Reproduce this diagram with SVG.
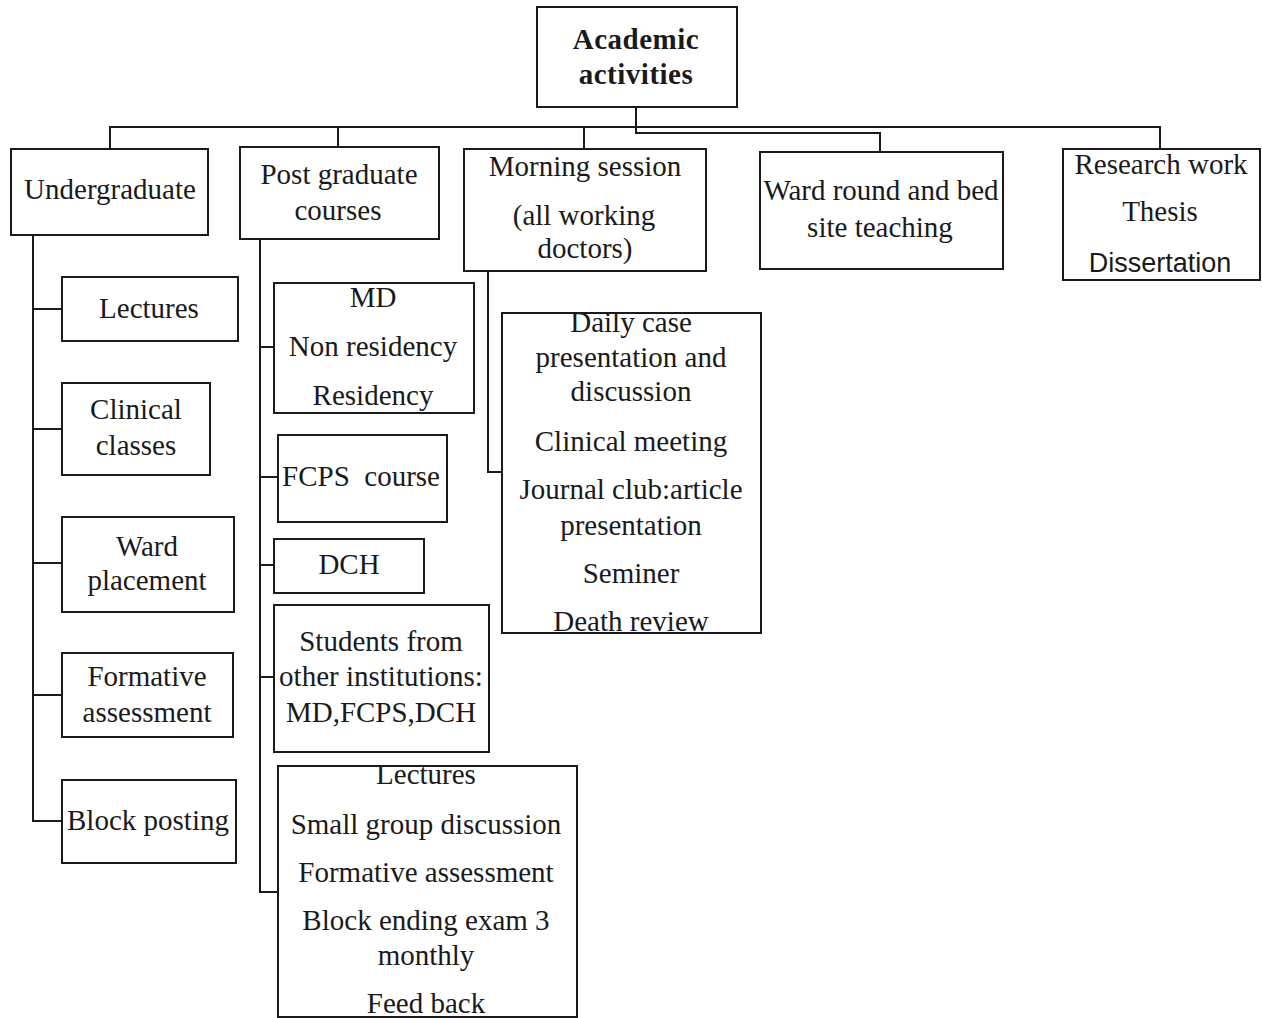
<svg xmlns="http://www.w3.org/2000/svg" width="1262" height="1018" viewBox="0 0 1262 1018">
<style>
.box{fill:#fff;stroke:#1a1a1a;stroke-width:2}
.ln{fill:none;stroke:#1a1a1a;stroke-width:2}
text{font-family:"Liberation Serif","Times New Roman",serif;font-size:29px;fill:#1a1a1a;text-anchor:middle}
.b{font-weight:bold;font-size:29px;letter-spacing:0.5px}
.s{font-family:"Liberation Sans",Arial,sans-serif;font-size:27px}
</style>
<rect width="1262" height="1018" fill="#fff"/>
<g id="connectors">
<path class="ln" d="M636,107 V133 H880 V152"/>
<path class="ln" d="M110,149 V127 H1160 V149"/>
<path class="ln" d="M338,127 V147"/>
<path class="ln" d="M584,127 V149"/>
<path class="ln" d="M33,235 V821 H62"/>
<path class="ln" d="M33,309 H62 M33,429 H62 M33,563 H62 M33,695 H62"/>
<path class="ln" d="M260,239 V892 H278"/>
<path class="ln" d="M260,347 H274 M260,477 H278 M260,565 H274 M260,677 H274"/>
<path class="ln" d="M488,271 V472 H502"/>
</g>
<g id="root"><rect class="box" x="537" y="7" width="200" height="100"/>
<text class="b" x="636" y="49">Academic</text><text class="b" x="636" y="84">activities</text></g>
<g id="undergraduate"><rect class="box" x="11" y="149" width="197" height="86"/>
<text x="110" y="199">Undergraduate</text></g>
<g id="postgraduate"><rect class="box" x="240" y="147" width="199" height="92"/>
<text x="339" y="184">Post graduate</text><text x="338" y="220">courses</text></g>
<g id="morning"><rect class="box" x="464" y="149" width="242" height="122"/>
<text x="585" y="176">Morning session</text><text x="584" y="225">(all working</text><text x="585" y="258">doctors)</text></g>
<g id="wardround"><rect class="box" x="760" y="152" width="243" height="117"/>
<text x="881" y="200">Ward round and bed</text><text x="880" y="237">site teaching</text></g>
<g id="research"><rect class="box" x="1063" y="149" width="197" height="131"/>
<text x="1161" y="174">Research work</text><text x="1160" y="221">Thesis</text><text class="s" x="1160" y="272">Dissertation</text></g>
<g id="ug-lectures"><rect class="box" x="62" y="277" width="176" height="64"/>
<text x="149" y="318">Lectures</text></g>
<g id="ug-clinical"><rect class="box" x="62" y="383" width="148" height="92"/>
<text x="136" y="419">Clinical</text><text x="136" y="455">classes</text></g>
<g id="ug-ward"><rect class="box" x="62" y="517" width="172" height="95"/>
<text x="147" y="556">Ward</text><text x="147" y="590">placement</text></g>
<g id="ug-formative"><rect class="box" x="62" y="653" width="171" height="84"/>
<text x="147" y="686">Formative</text><text x="147" y="722">assessment</text></g>
<g id="ug-block"><rect class="box" x="62" y="780" width="174" height="83"/>
<text x="148" y="830">Block posting</text></g>
<g id="pg-md"><rect class="box" x="274" y="283" width="200" height="130"/>
<text x="373" y="307">MD</text><text x="373" y="356">Non residency</text><text x="373" y="405">Residency</text></g>
<g id="pg-fcps"><rect class="box" x="278" y="435" width="169" height="87"/>
<text x="361" y="486" xml:space="preserve">FCPS  course</text></g>
<g id="pg-dch"><rect class="box" x="274" y="539" width="150" height="54"/>
<text x="349" y="574">DCH</text></g>
<g id="pg-students"><rect class="box" x="274" y="605" width="215" height="147"/>
<text x="381" y="651">Students from</text><text x="381" y="686">other institutions:</text><text x="381" y="722">MD,FCPS,DCH</text></g>
<g id="pg-activities"><rect class="box" x="278" y="766" width="299" height="251"/>
<text x="426" y="784">Lectures</text><text x="426" y="834">Small group discussion</text><text x="426" y="882">Formative assessment</text><text x="426" y="930">Block ending exam 3</text><text x="426" y="965">monthly</text><text x="426" y="1013">Feed back</text></g>
<g id="morning-activities"><rect class="box" x="502" y="313" width="259" height="320"/>
<text x="631" y="332">Daily case</text><text x="631" y="367">presentation and</text><text x="631" y="401">discussion</text><text x="631" y="451">Clinical meeting</text><text x="631" y="499">Journal club:article</text><text x="631" y="535">presentation</text><text x="631" y="583">Seminer</text><text x="631" y="631">Death review</text></g>
</svg>
